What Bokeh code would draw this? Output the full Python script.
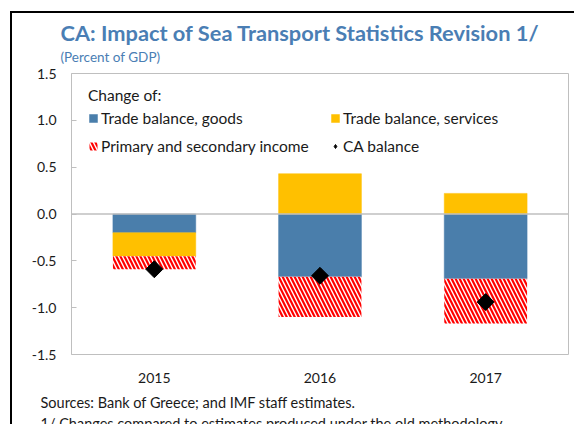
import numpy as np
from bokeh.plotting import figure
from bokeh.models import (FactorRange, Range1d, Legend, LegendItem, Span, Title,
                          FixedTicker, NumeralTickFormatter)
from bokeh.embed import file_html
from bokeh.resources import INLINE

years = ["2015", "2016", "2017"]
goods = [-0.20, -0.67, -0.69]
services = [-0.25, 0.43, 0.22]
income = [-0.14, -0.43, -0.48]
ca_balance = [-0.59, -0.66, -0.94]
y_ticks = [-1.5, -1.0, -0.5, 0.0, 0.5, 1.0, 1.5]

title_text = "CA: Impact of Sea Transport Statistics Revision 1/"
subtitle_text = "(Percent of GDP)"
legend_title = "Change of:"
series_names = ["Trade balance, goods", "Trade balance, services",
                "Primary and secondary income", "CA balance"]
source_text = "Sources: Bank of Greece; and IMF staff estimates."
note_text = "1/ Changes compared to estimates produced under the old methodology."

BLUE = "#4A7EAB"
YELLOW = "#FFC000"
RED = "#FF0000"
TITLE_BLUE = "#4A7EB4"
FONT = "Lato"
TXT = "#1A1A1A"

pos = np.zeros(len(years))
neg = np.zeros(len(years))


def stack(vals):
    v = np.array(vals, dtype=float)
    bottom = np.where(v >= 0, pos, neg)
    top = bottom + v
    pos[:] = np.where(v >= 0, top, pos)
    neg[:] = np.where(v < 0, top, neg)
    return bottom, top


p = figure(x_range=FactorRange(*years), y_range=Range1d(-1.5, 1.5),
           width=564, height=413, output_backend="svg", toolbar_location=None,
           min_border_left=59, min_border_right=8, min_border_top=60,
           min_border_bottom=71,
           styles={"border-left": "2px solid black", "border-top": "2px solid black"},
           margin=(11, 0, 0, 10))

p.outline_line_color = "#BFBFBF"
p.outline_line_width = 1
p.xgrid.visible = False
p.ygrid.visible = False

b, t = stack(goods)
r_goods = p.vbar(x=years, bottom=b, top=t, width=0.5, fill_color=BLUE,
                 line_color=BLUE, line_alpha=0.5)
b, t = stack(services)
r_serv = p.vbar(x=years, bottom=b, top=t, width=0.5, fill_color=YELLOW,
                line_color=YELLOW, line_alpha=0.5)
b, t = stack(income)
r_inc = p.vbar(x=years, bottom=b, top=t, width=0.5, fill_color="white",
               line_color=None, hatch_pattern="\\", hatch_color=RED,
               hatch_weight=2.2, hatch_scale=8)

p.add_layout(Span(location=0, dimension="width", line_color="#BFBFBF",
                  line_width=1.5))

r_ca = p.scatter(x=years, y=ca_balance, marker="square", angle=np.pi / 4,
                 size=12, fill_color="black", line_color="black")
# same points as an upright diamond (hidden under the rotated squares),
# used so the legend shows a diamond symbol
r_ca_key = p.scatter(x=years, y=ca_balance, marker="diamond", size=9,
                     fill_color="black", line_color="black")

# axes
p.yaxis.ticker = FixedTicker(ticks=y_ticks)
p.yaxis.formatter = NumeralTickFormatter(format="0.0")
p.yaxis.axis_line_color = None
p.yaxis.major_tick_in = 5
p.yaxis.major_tick_out = 0
p.yaxis.major_tick_line_color = "#BFBFBF"
p.yaxis.minor_tick_line_color = None
p.yaxis.major_label_standoff = 15
p.yaxis.major_label_text_font = FONT
p.yaxis.major_label_text_font_size = "14px"
p.yaxis.major_label_text_color = TXT

p.xaxis.axis_line_color = None
p.xaxis.major_tick_line_color = None
p.xaxis.minor_tick_line_color = None
p.xaxis.major_label_standoff = 12
p.xaxis.major_label_text_font = FONT
p.xaxis.major_label_text_font_size = "14px"
p.xaxis.major_label_text_color = TXT

legend = Legend(items=[LegendItem(label=series_names[0], renderers=[r_goods]),
                       LegendItem(label=series_names[1], renderers=[r_serv]),
                       LegendItem(label=series_names[2], renderers=[r_inc]),
                       LegendItem(label=series_names[3], renderers=[r_ca_key])],
                title=legend_title, ncols=2, orientation="horizontal",
                location=(17, 198), padding=0, margin=0,
                border_line_color=None, background_fill_alpha=0,
                glyph_width=10, glyph_height=10, label_standoff=3,
                spacing=8, label_width=221, label_height=20,
                title_standoff=4,
                label_text_font=FONT, label_text_font_size="15.5px",
                label_text_color=TXT,
                title_text_font=FONT, title_text_font_size="15.5px",
                title_text_font_style="normal", title_text_color=TXT)
p.add_layout(legend)

# titles (first added sits closest to the frame)
p.add_layout(Title(text=subtitle_text, align="left", offset=-11,
                   text_font=FONT, text_font_size="13.5px",
                   text_font_style="normal", text_color=TITLE_BLUE,
                   vertical_align="middle", standoff=15), "above")
p.add_layout(Title(text=title_text, align="left", offset=-11,
                   text_font=FONT, text_font_size="21.8px",
                   text_font_style="bold", text_color=TITLE_BLUE,
                   vertical_align="middle", standoff=-12), "above")
p.add_layout(Title(text=source_text, align="left", offset=-31,
                   text_font=FONT, text_font_size="14.5px",
                   text_font_style="normal", text_color=TXT,
                   standoff=13), "below")
p.add_layout(Title(text=note_text, align="left", offset=-31,
                   text_font=FONT, text_font_size="14.5px",
                   text_font_style="normal", text_color=TXT,
                   standoff=-10), "below")

open("out.html", "w").write(file_html(p, INLINE))
